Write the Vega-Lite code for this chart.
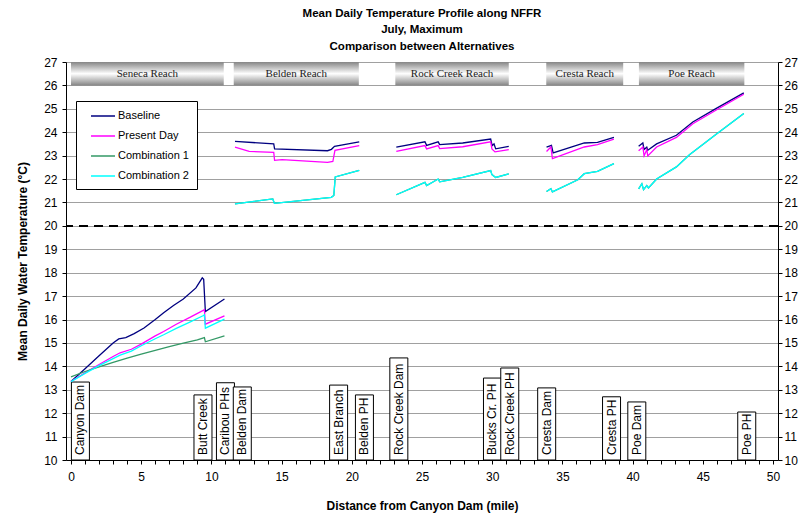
{
  "$schema": "https://vega.github.io/schema/vega-lite/v6.json",
  "width": 712,
  "height": 398,
  "autosize": {"type": "none"},
  "padding": {"left": 66, "top": 62, "right": 27, "bottom": 54},
  "background": "white",
  "title": {
    "text": ["Mean Daily Temperature Profile along NFFR", "July, Maximum", "Comparison between Alternatives"],
    "font": "Liberation Sans", "fontSize": 11.5, "fontWeight": "bold", "color": "black",
    "lineHeight": 16.5, "offset": 4, "anchor": "middle"
  },
  "config": {
    "view": {"stroke": null},
    "font": "Liberation Sans",
    "axis": {
      "labelFont": "Liberation Sans", "labelFontSize": 12, "labelColor": "black",
      "titleFont": "Liberation Sans", "titleFontSize": 12, "titleFontWeight": "bold", "titleColor": "black",
      "domainColor": "black", "tickColor": "black", "tickSize": 4
    },
    "axisX": {"labelOverlap": false, "labelFlush": false}
  },
  "datasets": {
    "reaches": [
      {"reach": "Seneca Reach", "a": 0, "b": 10.88},
      {"reach": "Belden Reach", "a": 11.59, "b": 20.5},
      {"reach": "Rock Creek Reach", "a": 23.1, "b": 31.18},
      {"reach": "Cresta Reach", "a": 33.85, "b": 39.33},
      {"reach": "Poe Reach", "a": 40.45, "b": 47.96}
    ],
    "sites": [
      {"name": "Canyon Dam", "x": 0.67, "top": 13.33},
      {"name": "Butt Creek", "x": 9.4, "top": 12.78},
      {"name": "Caribou PHs", "x": 11.0, "top": 13.3},
      {"name": "Belden Dam", "x": 12.2, "top": 13.12},
      {"name": "East Branch", "x": 19.06, "top": 13.2},
      {"name": "Belden PH", "x": 20.9, "top": 12.78},
      {"name": "Rock Creek Dam", "x": 23.35, "top": 14.36},
      {"name": "Bucks Cr. PH", "x": 30.02, "top": 13.5},
      {"name": "Rock Creek PH", "x": 31.25, "top": 13.93},
      {"name": "Cresta Dam", "x": 33.88, "top": 13.08},
      {"name": "Cresta PH", "x": 38.5, "top": 12.7},
      {"name": "Poe Dam", "x": 40.3, "top": 12.48},
      {"name": "Poe PH", "x": 48.13, "top": 12.05}
    ],
    "temps": [
      {"s": "Baseline", "r": "Seneca", "x": 0, "t": 13.35},
      {"s": "Baseline", "r": "Seneca", "x": 1, "t": 13.9},
      {"s": "Baseline", "r": "Seneca", "x": 2, "t": 14.45},
      {"s": "Baseline", "r": "Seneca", "x": 3, "t": 15.0},
      {"s": "Baseline", "r": "Seneca", "x": 3.4, "t": 15.17},
      {"s": "Baseline", "r": "Seneca", "x": 3.9, "t": 15.23},
      {"s": "Baseline", "r": "Seneca", "x": 4.5, "t": 15.4},
      {"s": "Baseline", "r": "Seneca", "x": 5.2, "t": 15.64},
      {"s": "Baseline", "r": "Seneca", "x": 6, "t": 16.0},
      {"s": "Baseline", "r": "Seneca", "x": 6.6, "t": 16.29},
      {"s": "Baseline", "r": "Seneca", "x": 7.3, "t": 16.6},
      {"s": "Baseline", "r": "Seneca", "x": 8, "t": 16.88},
      {"s": "Baseline", "r": "Seneca", "x": 8.9, "t": 17.35},
      {"s": "Baseline", "r": "Seneca", "x": 9.35, "t": 17.78},
      {"s": "Baseline", "r": "Seneca", "x": 9.45, "t": 17.72},
      {"s": "Baseline", "r": "Seneca", "x": 9.57, "t": 16.34},
      {"s": "Baseline", "r": "Seneca", "x": 10.93, "t": 16.88},
      {"s": "Baseline", "r": "Belden", "x": 11.68, "t": 23.61},
      {"s": "Baseline", "r": "Belden", "x": 14.44, "t": 23.5},
      {"s": "Baseline", "r": "Belden", "x": 14.5, "t": 23.29},
      {"s": "Baseline", "r": "Belden", "x": 18.27, "t": 23.21},
      {"s": "Baseline", "r": "Belden", "x": 18.55, "t": 23.27},
      {"s": "Baseline", "r": "Belden", "x": 18.77, "t": 23.4},
      {"s": "Baseline", "r": "Belden", "x": 20.53, "t": 23.59},
      {"s": "Baseline", "r": "Rock", "x": 23.17, "t": 23.36},
      {"s": "Baseline", "r": "Rock", "x": 25.21, "t": 23.59},
      {"s": "Baseline", "r": "Rock", "x": 25.33, "t": 23.44},
      {"s": "Baseline", "r": "Rock", "x": 26.15, "t": 23.59},
      {"s": "Baseline", "r": "Rock", "x": 26.26, "t": 23.47},
      {"s": "Baseline", "r": "Rock", "x": 27.9, "t": 23.54},
      {"s": "Baseline", "r": "Rock", "x": 29.89, "t": 23.71},
      {"s": "Baseline", "r": "Rock", "x": 30.0, "t": 23.43},
      {"s": "Baseline", "r": "Rock", "x": 30.13, "t": 23.5},
      {"s": "Baseline", "r": "Rock", "x": 30.25, "t": 23.29},
      {"s": "Baseline", "r": "Rock", "x": 31.18, "t": 23.4},
      {"s": "Baseline", "r": "Cresta", "x": 33.87, "t": 23.36},
      {"s": "Baseline", "r": "Cresta", "x": 34.22, "t": 23.44},
      {"s": "Baseline", "r": "Cresta", "x": 34.34, "t": 23.12},
      {"s": "Baseline", "r": "Cresta", "x": 36.56, "t": 23.54},
      {"s": "Baseline", "r": "Cresta", "x": 37.5, "t": 23.57},
      {"s": "Baseline", "r": "Cresta", "x": 38.67, "t": 23.78},
      {"s": "Baseline", "r": "Poe", "x": 40.43, "t": 23.4},
      {"s": "Baseline", "r": "Poe", "x": 40.73, "t": 23.54},
      {"s": "Baseline", "r": "Poe", "x": 40.82, "t": 23.26},
      {"s": "Baseline", "r": "Poe", "x": 41.01, "t": 23.36},
      {"s": "Baseline", "r": "Poe", "x": 41.08, "t": 23.23},
      {"s": "Baseline", "r": "Poe", "x": 41.71, "t": 23.5},
      {"s": "Baseline", "r": "Poe", "x": 43.12, "t": 23.87},
      {"s": "Baseline", "r": "Poe", "x": 44.29, "t": 24.44},
      {"s": "Baseline", "r": "Poe", "x": 45.93, "t": 25.01},
      {"s": "Baseline", "r": "Poe", "x": 47.92, "t": 25.68},

      {"s": "Present Day", "r": "Seneca", "x": 0, "t": 13.35},
      {"s": "Present Day", "r": "Seneca", "x": 1, "t": 13.72},
      {"s": "Present Day", "r": "Seneca", "x": 2, "t": 14.08},
      {"s": "Present Day", "r": "Seneca", "x": 3, "t": 14.42},
      {"s": "Present Day", "r": "Seneca", "x": 3.5, "t": 14.58},
      {"s": "Present Day", "r": "Seneca", "x": 4.3, "t": 14.73},
      {"s": "Present Day", "r": "Seneca", "x": 5, "t": 14.95},
      {"s": "Present Day", "r": "Seneca", "x": 6, "t": 15.3},
      {"s": "Present Day", "r": "Seneca", "x": 6.6, "t": 15.49},
      {"s": "Present Day", "r": "Seneca", "x": 7.5, "t": 15.8},
      {"s": "Present Day", "r": "Seneca", "x": 8.5, "t": 16.1},
      {"s": "Present Day", "r": "Seneca", "x": 9.35, "t": 16.37},
      {"s": "Present Day", "r": "Seneca", "x": 9.5, "t": 16.42},
      {"s": "Present Day", "r": "Seneca", "x": 9.57, "t": 15.8},
      {"s": "Present Day", "r": "Seneca", "x": 10.93, "t": 16.16},
      {"s": "Present Day", "r": "Belden", "x": 11.68, "t": 23.36},
      {"s": "Present Day", "r": "Belden", "x": 12.69, "t": 23.18},
      {"s": "Present Day", "r": "Belden", "x": 14.44, "t": 23.14},
      {"s": "Present Day", "r": "Belden", "x": 14.5, "t": 22.8},
      {"s": "Present Day", "r": "Belden", "x": 15.03, "t": 22.83},
      {"s": "Present Day", "r": "Belden", "x": 18.27, "t": 22.71},
      {"s": "Present Day", "r": "Belden", "x": 18.65, "t": 22.75},
      {"s": "Present Day", "r": "Belden", "x": 18.8, "t": 23.23},
      {"s": "Present Day", "r": "Belden", "x": 20.53, "t": 23.43},
      {"s": "Present Day", "r": "Rock", "x": 23.17, "t": 23.18},
      {"s": "Present Day", "r": "Rock", "x": 25.21, "t": 23.43},
      {"s": "Present Day", "r": "Rock", "x": 25.33, "t": 23.29},
      {"s": "Present Day", "r": "Rock", "x": 26.15, "t": 23.43},
      {"s": "Present Day", "r": "Rock", "x": 26.26, "t": 23.3},
      {"s": "Present Day", "r": "Rock", "x": 27.9, "t": 23.38},
      {"s": "Present Day", "r": "Rock", "x": 29.89, "t": 23.59},
      {"s": "Present Day", "r": "Rock", "x": 29.98, "t": 23.29},
      {"s": "Present Day", "r": "Rock", "x": 30.2, "t": 23.16},
      {"s": "Present Day", "r": "Rock", "x": 31.18, "t": 23.26},
      {"s": "Present Day", "r": "Cresta", "x": 33.87, "t": 23.18},
      {"s": "Present Day", "r": "Cresta", "x": 34.18, "t": 23.37},
      {"s": "Present Day", "r": "Cresta", "x": 34.29, "t": 22.87},
      {"s": "Present Day", "r": "Cresta", "x": 36.56, "t": 23.37},
      {"s": "Present Day", "r": "Cresta", "x": 37.5, "t": 23.47},
      {"s": "Present Day", "r": "Cresta", "x": 38.67, "t": 23.71},
      {"s": "Present Day", "r": "Poe", "x": 40.43, "t": 23.21},
      {"s": "Present Day", "r": "Poe", "x": 40.73, "t": 23.37},
      {"s": "Present Day", "r": "Poe", "x": 40.82, "t": 22.99},
      {"s": "Present Day", "r": "Poe", "x": 41.01, "t": 23.26},
      {"s": "Present Day", "r": "Poe", "x": 41.08, "t": 22.99},
      {"s": "Present Day", "r": "Poe", "x": 41.71, "t": 23.37},
      {"s": "Present Day", "r": "Poe", "x": 43.12, "t": 23.78},
      {"s": "Present Day", "r": "Poe", "x": 44.29, "t": 24.36},
      {"s": "Present Day", "r": "Poe", "x": 45.93, "t": 24.94},
      {"s": "Present Day", "r": "Poe", "x": 47.92, "t": 25.62},

      {"s": "Combination 1", "r": "Seneca", "x": 0, "t": 13.55},
      {"s": "Combination 1", "r": "Seneca", "x": 1, "t": 13.78},
      {"s": "Combination 1", "r": "Seneca", "x": 2, "t": 13.98},
      {"s": "Combination 1", "r": "Seneca", "x": 3, "t": 14.17},
      {"s": "Combination 1", "r": "Seneca", "x": 4, "t": 14.35},
      {"s": "Combination 1", "r": "Seneca", "x": 5, "t": 14.52},
      {"s": "Combination 1", "r": "Seneca", "x": 6, "t": 14.68},
      {"s": "Combination 1", "r": "Seneca", "x": 7, "t": 14.84},
      {"s": "Combination 1", "r": "Seneca", "x": 8, "t": 14.99},
      {"s": "Combination 1", "r": "Seneca", "x": 9, "t": 15.13},
      {"s": "Combination 1", "r": "Seneca", "x": 9.5, "t": 15.23},
      {"s": "Combination 1", "r": "Seneca", "x": 9.57, "t": 15.05},
      {"s": "Combination 1", "r": "Seneca", "x": 10.93, "t": 15.3},
      {"s": "Combination 1", "r": "Belden", "x": 11.68, "t": 20.94},
      {"s": "Combination 1", "r": "Belden", "x": 14.37, "t": 21.15},
      {"s": "Combination 1", "r": "Belden", "x": 14.49, "t": 20.96},
      {"s": "Combination 1", "r": "Belden", "x": 18.54, "t": 21.22},
      {"s": "Combination 1", "r": "Belden", "x": 18.72, "t": 21.3},
      {"s": "Combination 1", "r": "Belden", "x": 18.82, "t": 22.09},
      {"s": "Combination 1", "r": "Belden", "x": 20.53, "t": 22.37},
      {"s": "Combination 1", "r": "Rock", "x": 23.17, "t": 21.33},
      {"s": "Combination 1", "r": "Rock", "x": 25.21, "t": 21.86},
      {"s": "Combination 1", "r": "Rock", "x": 25.33, "t": 21.72},
      {"s": "Combination 1", "r": "Rock", "x": 26.15, "t": 22.0},
      {"s": "Combination 1", "r": "Rock", "x": 26.26, "t": 21.88},
      {"s": "Combination 1", "r": "Rock", "x": 27.9, "t": 22.07},
      {"s": "Combination 1", "r": "Rock", "x": 29.89, "t": 22.36},
      {"s": "Combination 1", "r": "Rock", "x": 29.98, "t": 22.19},
      {"s": "Combination 1", "r": "Rock", "x": 30.25, "t": 22.07},
      {"s": "Combination 1", "r": "Rock", "x": 31.18, "t": 22.22},
      {"s": "Combination 1", "r": "Cresta", "x": 33.87, "t": 21.47},
      {"s": "Combination 1", "r": "Cresta", "x": 34.18, "t": 21.59},
      {"s": "Combination 1", "r": "Cresta", "x": 34.29, "t": 21.45},
      {"s": "Combination 1", "r": "Cresta", "x": 36.1, "t": 21.97},
      {"s": "Combination 1", "r": "Cresta", "x": 36.56, "t": 22.23},
      {"s": "Combination 1", "r": "Cresta", "x": 37.5, "t": 22.33},
      {"s": "Combination 1", "r": "Cresta", "x": 38.67, "t": 22.66},
      {"s": "Combination 1", "r": "Poe", "x": 40.43, "t": 21.58},
      {"s": "Combination 1", "r": "Poe", "x": 40.66, "t": 21.8},
      {"s": "Combination 1", "r": "Poe", "x": 40.78, "t": 21.55},
      {"s": "Combination 1", "r": "Poe", "x": 41.01, "t": 21.72},
      {"s": "Combination 1", "r": "Poe", "x": 41.13, "t": 21.62},
      {"s": "Combination 1", "r": "Poe", "x": 41.71, "t": 22.0},
      {"s": "Combination 1", "r": "Poe", "x": 43.12, "t": 22.52},
      {"s": "Combination 1", "r": "Poe", "x": 44.05, "t": 23.04},
      {"s": "Combination 1", "r": "Poe", "x": 45.93, "t": 23.9},
      {"s": "Combination 1", "r": "Poe", "x": 47.92, "t": 24.8},

      {"s": "Combination 2", "r": "Seneca", "x": 0, "t": 13.35},
      {"s": "Combination 2", "r": "Seneca", "x": 1, "t": 13.7},
      {"s": "Combination 2", "r": "Seneca", "x": 2, "t": 14.03},
      {"s": "Combination 2", "r": "Seneca", "x": 3, "t": 14.33},
      {"s": "Combination 2", "r": "Seneca", "x": 3.5, "t": 14.48},
      {"s": "Combination 2", "r": "Seneca", "x": 4.3, "t": 14.65},
      {"s": "Combination 2", "r": "Seneca", "x": 5, "t": 14.88},
      {"s": "Combination 2", "r": "Seneca", "x": 6, "t": 15.18},
      {"s": "Combination 2", "r": "Seneca", "x": 6.6, "t": 15.35},
      {"s": "Combination 2", "r": "Seneca", "x": 7.5, "t": 15.62},
      {"s": "Combination 2", "r": "Seneca", "x": 8.5, "t": 15.9},
      {"s": "Combination 2", "r": "Seneca", "x": 9.4, "t": 16.16},
      {"s": "Combination 2", "r": "Seneca", "x": 9.5, "t": 16.2},
      {"s": "Combination 2", "r": "Seneca", "x": 9.57, "t": 15.63},
      {"s": "Combination 2", "r": "Seneca", "x": 10.93, "t": 16.02},
      {"s": "Combination 2", "r": "Belden", "x": 11.68, "t": 20.94},
      {"s": "Combination 2", "r": "Belden", "x": 14.37, "t": 21.15},
      {"s": "Combination 2", "r": "Belden", "x": 14.49, "t": 20.96},
      {"s": "Combination 2", "r": "Belden", "x": 18.54, "t": 21.22},
      {"s": "Combination 2", "r": "Belden", "x": 18.72, "t": 21.3},
      {"s": "Combination 2", "r": "Belden", "x": 18.82, "t": 22.09},
      {"s": "Combination 2", "r": "Belden", "x": 20.53, "t": 22.37},
      {"s": "Combination 2", "r": "Rock", "x": 23.17, "t": 21.33},
      {"s": "Combination 2", "r": "Rock", "x": 25.21, "t": 21.86},
      {"s": "Combination 2", "r": "Rock", "x": 25.33, "t": 21.72},
      {"s": "Combination 2", "r": "Rock", "x": 26.15, "t": 22.0},
      {"s": "Combination 2", "r": "Rock", "x": 26.26, "t": 21.88},
      {"s": "Combination 2", "r": "Rock", "x": 27.9, "t": 22.07},
      {"s": "Combination 2", "r": "Rock", "x": 29.89, "t": 22.36},
      {"s": "Combination 2", "r": "Rock", "x": 29.98, "t": 22.19},
      {"s": "Combination 2", "r": "Rock", "x": 30.25, "t": 22.07},
      {"s": "Combination 2", "r": "Rock", "x": 31.18, "t": 22.22},
      {"s": "Combination 2", "r": "Cresta", "x": 33.87, "t": 21.47},
      {"s": "Combination 2", "r": "Cresta", "x": 34.18, "t": 21.59},
      {"s": "Combination 2", "r": "Cresta", "x": 34.29, "t": 21.45},
      {"s": "Combination 2", "r": "Cresta", "x": 36.1, "t": 21.97},
      {"s": "Combination 2", "r": "Cresta", "x": 36.56, "t": 22.23},
      {"s": "Combination 2", "r": "Cresta", "x": 37.5, "t": 22.33},
      {"s": "Combination 2", "r": "Cresta", "x": 38.67, "t": 22.66},
      {"s": "Combination 2", "r": "Poe", "x": 40.43, "t": 21.58},
      {"s": "Combination 2", "r": "Poe", "x": 40.66, "t": 21.8},
      {"s": "Combination 2", "r": "Poe", "x": 40.78, "t": 21.55},
      {"s": "Combination 2", "r": "Poe", "x": 41.01, "t": 21.72},
      {"s": "Combination 2", "r": "Poe", "x": 41.13, "t": 21.62},
      {"s": "Combination 2", "r": "Poe", "x": 41.71, "t": 22.0},
      {"s": "Combination 2", "r": "Poe", "x": 43.12, "t": 22.52},
      {"s": "Combination 2", "r": "Poe", "x": 44.05, "t": 23.04},
      {"s": "Combination 2", "r": "Poe", "x": 45.93, "t": 23.9},
      {"s": "Combination 2", "r": "Poe", "x": 47.92, "t": 24.8}
    ]
  },
  "layer": [
    {
      "data": {"name": "reaches"},
      "mark": {
        "type": "rect",
        "color": {"gradient": "linear", "x1": 0, "y1": 0, "x2": 0, "y2": 1,
          "stops": [{"offset": 0, "color": "#858585"}, {"offset": 0.5, "color": "#ffffff"}, {"offset": 1, "color": "#858585"}]}
      },
      "encoding": {
        "x": {"field": "a", "type": "quantitative",
          "scale": {"domain": [0, 50], "nice": false, "zero": false},
          "axis": {
            "title": "Distance from Canyon Dam (mile)",
            "values": [0,1,2,3,4,5,6,7,8,9,10,11,12,13,14,15,16,17,18,19,20,21,22,23,24,25,26,27,28,29,30,31,32,33,34,35,36,37,38,39,40,41,42,43,44,45,46,47,48,49,50],
            "labelExpr": "datum.value % 5 === 0 ? datum.label : ''",
            "labelOverlap": false, "labelFlush": false,
            "tickSize": 4, "labelPadding": 7, "titlePadding": 18, "grid": false
          }},
        "x2": {"field": "b"},
        "y": {"datum": 27, "type": "quantitative",
          "scale": {"domain": [10, 27], "nice": false, "zero": false},
          "axis": {
            "orient": "left",
            "title": "Mean Daily Water Temperature (°C)",
            "values": [10,11,12,13,14,15,16,17,18,19,20,21,22,23,24,25,26,27],
            "grid": true, "gridColor": "#a0a0a0", "gridWidth": 1,
            "tickSize": 4, "labelPadding": 5, "titlePadding": 14
          }},
        "y2": {"datum": 26}
      }
    },
    {
      "data": {"name": "reaches"},
      "transform": [{"calculate": "(datum.a + datum.b) / 2", "as": "mid"}],
      "mark": {"type": "text", "font": "Liberation Serif", "fontSize": 11, "color": "#222222", "baseline": "middle", "align": "center"},
      "encoding": {
        "x": {"field": "mid", "type": "quantitative", "axis": null},
        "y": {"datum": 26.5, "type": "quantitative", "axis": null},
        "text": {"field": "reach"}
      }
    },
    {
      "data": {"values": [{}]},
      "mark": {"type": "rule", "strokeDash": [9, 6], "strokeWidth": 2, "color": "black"},
      "encoding": {
        "y": {"datum": 20, "type": "quantitative", "title": "",
          "axis": {
            "orient": "right", "title": null,
            "values": [10,11,12,13,14,15,16,17,18,19,20,21,22,23,24,25,26,27],
            "grid": false, "tickSize": 4, "labelPadding": 2
          }}
      }
    },
    {
      "data": {"name": "sites"},
      "mark": {"type": "bar", "width": 18, "fill": "white", "stroke": "black", "strokeWidth": 1},
      "encoding": {
        "x": {"field": "x", "type": "quantitative", "axis": null},
        "y": {"field": "top", "type": "quantitative", "axis": null},
        "y2": {"datum": 10}
      }
    },
    {
      "data": {"name": "sites"},
      "mark": {"type": "text", "angle": 270, "align": "left", "baseline": "middle", "dx": 5, "fontSize": 12, "font": "Liberation Sans", "color": "black"},
      "encoding": {
        "x": {"field": "x", "type": "quantitative", "axis": null},
        "y": {"datum": 10, "type": "quantitative", "axis": null},
        "text": {"field": "name"}
      }
    },
    {
      "data": {"name": "temps"},
      "mark": {"type": "line", "strokeWidth": 1.3},
      "encoding": {
        "x": {"field": "x", "type": "quantitative", "axis": null},
        "y": {"field": "t", "type": "quantitative", "axis": null},
        "detail": {"field": "r"},
        "color": {"field": "s", "type": "nominal",
          "scale": {"domain": ["Baseline", "Present Day", "Combination 1", "Combination 2"],
                    "range": ["#000080", "#ff00ff", "#339966", "#00ffff"]},
          "legend": {
            "title": null, "orient": "none", "legendX": 10, "legendY": 39,
            "strokeColor": "black", "fillColor": "white", "padding": 8,
            "symbolType": "M0,0H4", "symbolSize": 144, "symbolStrokeWidth": 1.5,
            "labelFont": "Liberation Sans", "labelFontSize": 11, "labelColor": "black",
            "labelOffset": 20, "rowPadding": 8
          }}
      }
    }
  ],
  "resolve": {"axis": {"x": "independent", "y": "independent"}}
}
